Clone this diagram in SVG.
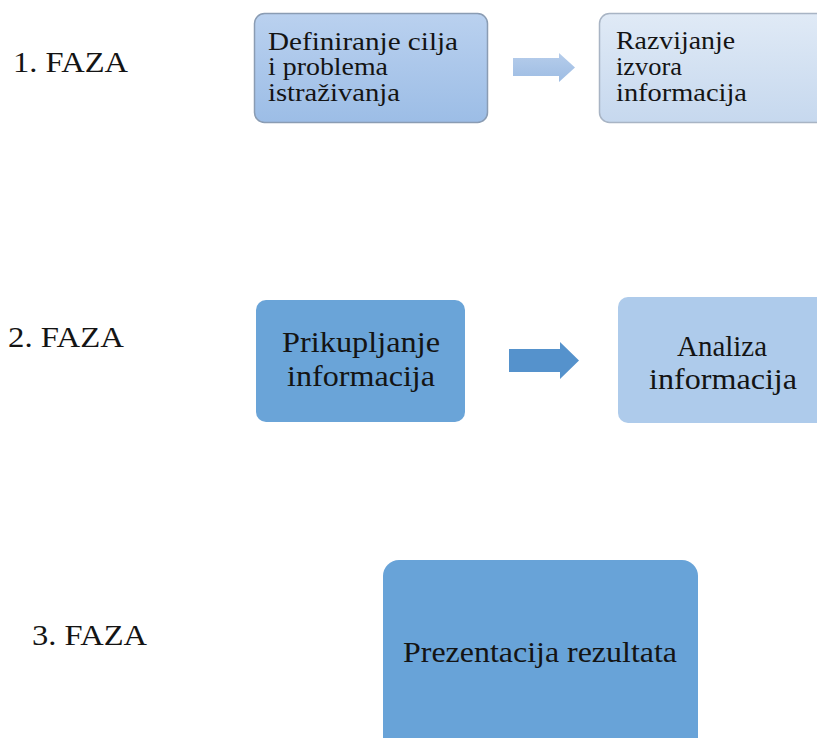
<svg xmlns="http://www.w3.org/2000/svg" width="817" height="738" viewBox="0 0 817 738">
<style>
  text { font-family: "Liberation Serif", "Times New Roman", serif; fill: #141414; }
  .faza { font-size: 30px; }
  .t1 { font-size: 25px; }
  .t2 { font-size: 30px; text-anchor: middle; }
</style>
<defs>
  <linearGradient id="g1" x1="0" y1="0" x2="0" y2="1">
    <stop offset="0" stop-color="#bad1ef"/>
    <stop offset="1" stop-color="#9cbde6"/>
  </linearGradient>
  <linearGradient id="g2" x1="0" y1="0" x2="0" y2="1">
    <stop offset="0" stop-color="#e0eaf6"/>
    <stop offset="1" stop-color="#c6d8ee"/>
  </linearGradient>
  <linearGradient id="ga" x1="0" y1="0" x2="0" y2="1">
    <stop offset="0" stop-color="#b6cdeb"/>
    <stop offset="1" stop-color="#9dbce3"/>
  </linearGradient>
</defs>
<rect width="817" height="738" fill="#ffffff"/>

<g id="labels">
  <text class="faza" x="13" y="72" textLength="115" lengthAdjust="spacingAndGlyphs">1. FAZA</text>
  <text class="faza" x="8" y="347" textLength="116" lengthAdjust="spacingAndGlyphs">2. FAZA</text>
  <text class="faza" x="32" y="645" textLength="115" lengthAdjust="spacingAndGlyphs">3. FAZA</text>
</g>

<g id="connectors">
  <polygon id="arrow1" points="513,58 559,58 559,53 575,67.5 559,82 559,76 513,76" fill="url(#ga)"/>
  <polygon id="arrow2" points="509,349 560,349 560,342 579,360.5 560,379 560,372 509,372" fill="#5592cc"/>
</g>

<g id="node-definiranje">
  <rect x="254.5" y="13.5" width="233" height="109" rx="10" fill="url(#g1)" stroke="#8a9cb3" stroke-width="1.5"/>
  <text class="t1" x="268" y="50" textLength="190" lengthAdjust="spacingAndGlyphs">Definiranje cilja</text>
  <text class="t1" x="268" y="75" textLength="120" lengthAdjust="spacingAndGlyphs">i problema</text>
  <text class="t1" x="268" y="101" textLength="132" lengthAdjust="spacingAndGlyphs">istraživanja</text>
</g>

<g id="node-razvijanje">
  <rect x="599.5" y="13.5" width="240" height="109" rx="10" fill="url(#g2)" stroke="#a8b4c4" stroke-width="1.5"/>
  <text class="t1" x="616" y="49" textLength="119" lengthAdjust="spacingAndGlyphs">Razvijanje</text>
  <text class="t1" x="616" y="75" textLength="66" lengthAdjust="spacingAndGlyphs">izvora</text>
  <text class="t1" x="616" y="101" textLength="131" lengthAdjust="spacingAndGlyphs">informacija</text>
</g>

<g id="node-prikupljanje">
  <rect x="256" y="300" width="209" height="122" rx="10" fill="#6aa4d8"/>
  <text class="t2" x="361" y="352" textLength="158" lengthAdjust="spacingAndGlyphs">Prikupljanje</text>
  <text class="t2" x="361" y="386" textLength="148" lengthAdjust="spacingAndGlyphs">informacija</text>
</g>

<g id="node-analiza">
  <rect x="618" y="297" width="230" height="126" rx="10" fill="#aecbeb"/>
  <text class="t2" x="722" y="356" textLength="90" lengthAdjust="spacingAndGlyphs">Analiza</text>
  <text class="t2" x="723" y="389" textLength="148" lengthAdjust="spacingAndGlyphs">informacija</text>
</g>

<g id="node-prezentacija">
  <rect x="383" y="560" width="315" height="200" rx="16" fill="#68a3d8"/>
  <text class="t2" x="540" y="662" textLength="274" lengthAdjust="spacingAndGlyphs">Prezentacija rezultata</text>
</g>
</svg>
